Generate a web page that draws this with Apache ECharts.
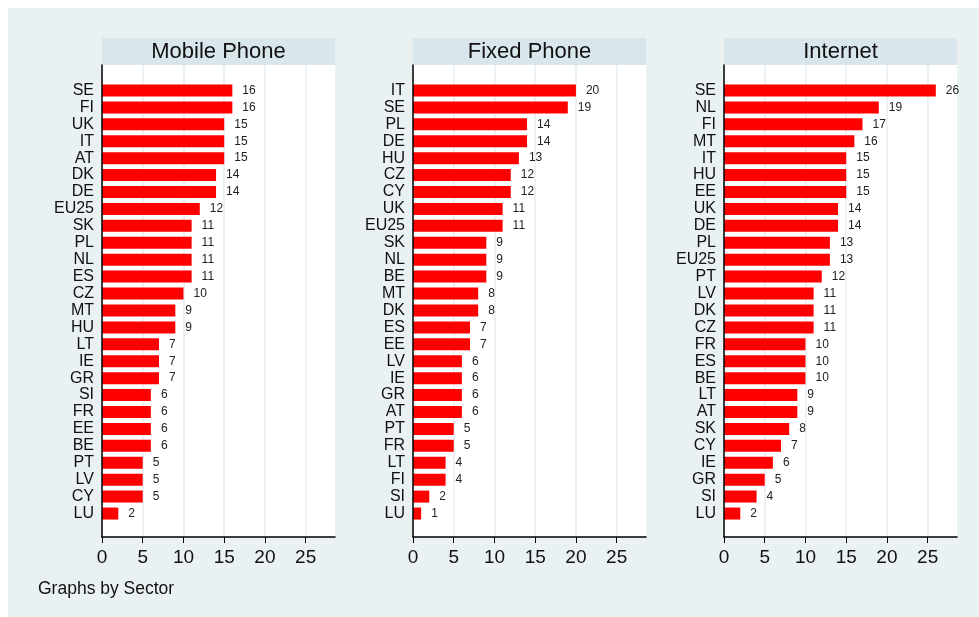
<!DOCTYPE html>
<html>
<head>
<meta charset="utf-8">
<script src="https://cdn.jsdelivr.net/npm/echarts@6/dist/echarts.min.js"></script>
<style>
  body { margin: 0; background: #fff; }
  #main { width: 979px; height: 617px; }
</style>
</head>
<body>
<div id="main"></div>
<script>
var panelTitles = ['Mobile Phone', 'Fixed Phone', 'Internet'];

var mobileCats = ['SE','FI','UK','IT','AT','DK','DE','EU25','SK','PL','NL','ES','CZ','MT','HU','LT','IE','GR','SI','FR','EE','BE','PT','LV','CY','LU'];
var mobileVals = [16,16,15,15,15,14,14,12,11,11,11,11,10,9,9,7,7,7,6,6,6,6,5,5,5,2];

var fixedCats = ['IT','SE','PL','DE','HU','CZ','CY','UK','EU25','SK','NL','BE','MT','DK','ES','EE','LV','IE','GR','AT','PT','FR','LT','FI','SI','LU'];
var fixedVals = [20,19,14,14,13,12,12,11,11,9,9,9,8,8,7,7,6,6,6,6,5,5,4,4,2,1];

var internetCats = ['SE','NL','FI','MT','IT','HU','EE','UK','DE','PL','EU25','PT','LV','DK','CZ','FR','ES','BE','LT','AT','SK','CY','IE','GR','SI','LU'];
var internetVals = [26,19,17,16,15,15,15,14,14,13,13,12,11,11,11,10,10,10,9,9,8,7,6,5,4,2];

var xTicks = [0, 5, 10, 15, 20, 25];

var panels = [
  { cats: mobileCats, vals: mobileVals },
  { cats: fixedCats, vals: fixedVals },
  { cats: internetCats, vals: internetVals }
];

var lefts = [102, 413, 724];
var plotW = 233;
var xMax = 28.6;
var font = 'Liberation Sans, Arial, sans-serif';

var grids = [], xAxes = [], yAxes = [], series = [], graphics = [];

graphics.push({
  type: 'rect', x: 8, y: 8, z: -10,
  shape: { width: 971, height: 609 },
  style: { fill: '#eaf1f3' }
});

for (var i = 0; i < panels.length; i++) {
  // frame grid: white plot area, axes, ticks
  grids.push({ left: lefts[i], top: 65, width: plotW, height: 472, show: true, backgroundColor: '#fff', borderWidth: 0 });
  // data grid: where the bars sit
  grids.push({ left: lefts[i], top: 82, width: plotW, height: 440 });

  xAxes.push({
    type: 'value', gridIndex: 2 * i, min: 0, max: xMax, interval: 5,
    axisLine: { show: true, lineStyle: { color: '#000', width: 1.5 } },
    axisTick: { show: true, length: 6, lineStyle: { color: '#000' }, customValues: xTicks },
    axisLabel: { fontSize: 19, color: '#111', fontFamily: font, margin: 11, customValues: xTicks },
    splitLine: { show: true, lineStyle: { color: '#e4edf1', width: 1.5 } }
  });
  xAxes.push({
    type: 'value', gridIndex: 2 * i + 1, min: 0, max: xMax, show: false
  });

  yAxes.push({
    type: 'value', gridIndex: 2 * i, min: 0, max: 1, z: 5,
    axisLine: { show: true, lineStyle: { color: '#000', width: 1.5 } },
    axisTick: { show: false }, axisLabel: { show: false }, splitLine: { show: false }
  });
  yAxes.push({
    type: 'category', gridIndex: 2 * i + 1, inverse: true, data: panels[i].cats,
    axisLine: { show: false }, axisTick: { show: false }, splitLine: { show: false },
    axisLabel: { interval: 0, fontSize: 16, color: '#111', fontFamily: font, margin: 8 }
  });

  series.push({
    type: 'bar', xAxisIndex: 2 * i + 1, yAxisIndex: 2 * i + 1,
    data: panels[i].vals, barWidth: 12,
    itemStyle: { color: '#ff0000' },
    label: { show: true, position: 'right', distance: 10, fontSize: 12, color: '#222', fontFamily: font }
  });

  graphics.push({
    type: 'rect', x: lefts[i], y: 38,
    shape: { width: plotW, height: 27 },
    style: { fill: '#d9e6ec' }
  });
  graphics.push({
    type: 'text', x: lefts[i] + plotW / 2, y: 51.5,
    style: { text: panelTitles[i], fontSize: 22, fontFamily: font, fill: '#111', align: 'center', verticalAlign: 'middle' }
  });
}

graphics.push({
  type: 'text', x: 38, y: 589,
  style: { text: 'Graphs by Sector', fontSize: 17.5, fontFamily: font, fill: '#111', verticalAlign: 'middle' }
});

var myChart = echarts.init(document.getElementById('main'));
var option = {
  backgroundColor: '#fff',
  animation: false,
  grid: grids,
  xAxis: xAxes,
  yAxis: yAxes,
  series: series,
  graphic: graphics
};
myChart.setOption(option);
</script>
</body>
</html>
